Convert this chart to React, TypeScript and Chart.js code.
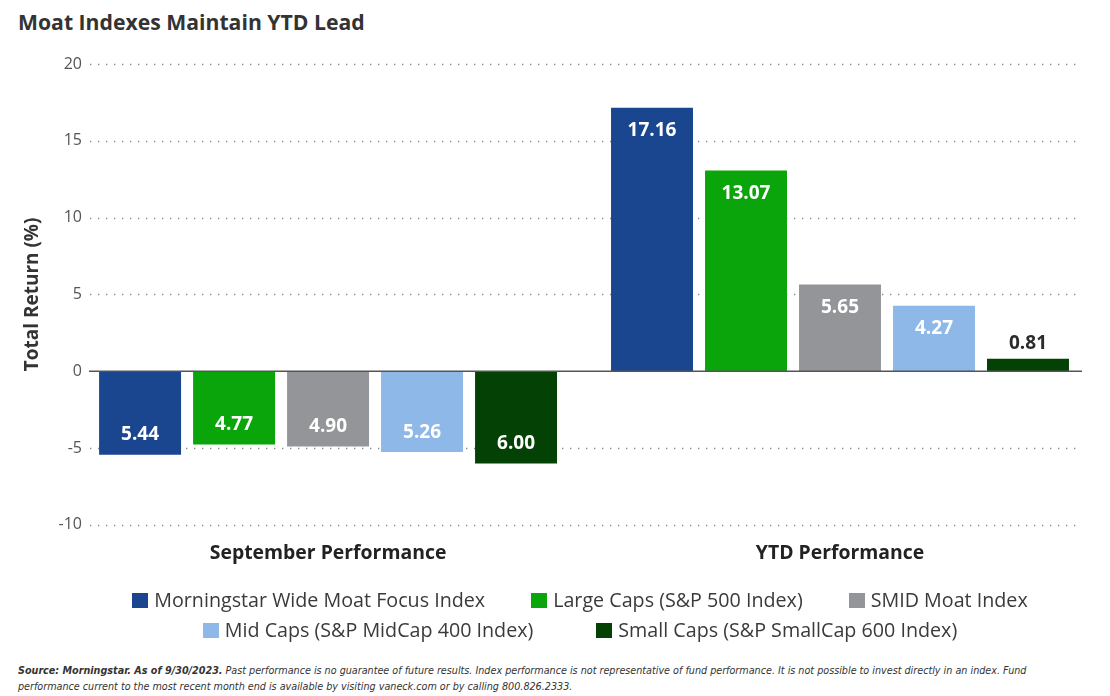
import React, { useEffect, useRef } from "react";
import { Chart, registerables } from "chart.js";

Chart.register(...registerables);

const chartTitle = "Moat Indexes Maintain YTD Lead";
const yAxisTitle = "Total Return (%)";
const categories = ["September Performance", "YTD Performance"];
const seriesNames = [
  "Morningstar Wide Moat Focus Index",
  "Large Caps (S&P 500 Index)",
  "SMID Moat Index",
  "Mid Caps (S&P MidCap 400 Index)",
  "Small Caps (S&P SmallCap 600 Index)",
];
const morningstarWideMoat = [-5.44, 17.16];
const largeCaps = [-4.77, 13.07];
const smidMoat = [-4.9, 5.65];
const midCaps = [-5.26, 4.27];
const smallCaps = [-6.0, 0.81];
const seriesValues = [morningstarWideMoat, largeCaps, smidMoat, midCaps, smallCaps];
const seriesColors = ["#1a4690", "#0aa50a", "#939598", "#8db8e8", "#044104"];
const yMin = -10;
const yMax = 20;
const yStep = 5;
const legendRows = [[0, 1, 2], [3, 4]];

const FONT = "'Open Sans', sans-serif";

const gridPlugin = {
  id: "dottedGrid",
  beforeDatasetsDraw(chart: any) {
    const { ctx, chartArea, scales } = chart;
    const y = scales.y;
    ctx.save();
    ctx.strokeStyle = "#8a8a8a";
    ctx.lineWidth = 1.3;
    ctx.setLineDash([1.3, 6.7]);
    y.ticks.forEach((t: any) => {
      if (t.value === 0) return;
      const py = Math.round(y.getPixelForValue(t.value)) + 0.5;
      ctx.beginPath();
      ctx.moveTo(chartArea.left, py);
      ctx.lineTo(chartArea.right, py);
      ctx.stroke();
    });
    ctx.restore();
  },
  afterDatasetsDraw(chart: any) {
    const { ctx, chartArea, scales } = chart;
    const y = scales.y;
    const py = y.getPixelForValue(0);
    ctx.save();
    ctx.strokeStyle = "#555555";
    ctx.lineWidth = 1.6;
    ctx.beginPath();
    ctx.moveTo(chartArea.left - 1, py);
    ctx.lineTo(chartArea.right, py);
    ctx.stroke();
    ctx.restore();

    ctx.save();
    ctx.font = `bold 19px ${FONT}`;
    ctx.textAlign = "center";
    ctx.textBaseline = "middle";
    chart.data.datasets.forEach((ds: any, di: number) => {
      const meta = chart.getDatasetMeta(di);
      meta.data.forEach((bar: any, i: number) => {
        const v = ds.data[i].y as number;
        const txt = Math.abs(v).toFixed(2);
        const h = Math.abs(bar.base - bar.y);
        let ty: number;
        let color = "#ffffff";
        if (v < 0) {
          ty = bar.y - 20;
        } else if (h > 40) {
          ty = bar.y + 23;
        } else {
          ty = bar.y - 15;
          color = "#2b2b2b";
        }
        ctx.fillStyle = color;
        ctx.fillText(txt, bar.x, ty);
      });
    });
    ctx.restore();
  },
};

function ChartCanvas() {
  const ref = useRef<HTMLCanvasElement | null>(null);
  useEffect(() => {
    if (!ref.current) return;
    const chart = new Chart(ref.current, {
      type: "bar",
      data: {
        datasets: seriesNames.map((name, i) => ({
          label: name,
          data: seriesValues[i].map((v, ci) => ({ x: ci, y: v })),
          backgroundColor: seriesColors[i],
          borderWidth: 0,
          categoryPercentage: 0.918,
          barPercentage: 0.872,
        })),
      },
      options: {
        animation: false,
        responsive: true,
        maintainAspectRatio: false,
        layout: { padding: { left: 21.6, right: 28, top: 64, bottom: 6 } },
        plugins: {
          legend: { display: false },
          title: { display: false },
          tooltip: { enabled: false },
        },
        scales: {
          x: {
            type: "linear",
            offset: false,
            min: -0.465,
            max: 1.4727,
            grid: { display: false, drawTicks: false },
            border: { display: false },
            afterBuildTicks: (scale: any) => {
              scale.ticks = categories.map((_, i) => ({ value: i }));
            },
            ticks: {
              autoSkip: false,
              maxRotation: 0,
              color: "#222222",
              font: { family: FONT, size: 19.4, weight: "bold" },
              padding: 17.4,
              callback: (v: any) => categories[v as number] ?? "",
            },
          },
          y: {
            min: yMin,
            max: yMax,
            afterFit: (scale: any) => {
              scale.width = 68.4;
            },
            grid: { display: false, drawTicks: false },
            border: { display: false },
            ticks: {
              stepSize: yStep,
              color: "#555555",
              font: { family: FONT, size: 16 },
              padding: 8,
            },
            title: {
              display: true,
              text: yAxisTitle,
              color: "#333333",
              font: { family: FONT, size: 19, weight: "bold" },
              padding: { top: 0, bottom: 12 },
            },
          },
        },
      },
      plugins: [gridPlugin],
    });
    return () => chart.destroy();
  }, []);
  return <canvas ref={ref} />;
}

export default function App() {
  return (
    <div
      style={{
        position: "absolute",
        left: 0,
        top: 0,
        width: 1110,
        height: 696,
        background: "#ffffff",
        fontFamily: FONT,
        overflow: "hidden",
      }}
    >
      <div
        style={{
          position: "absolute",
          left: 18,
          top: 7,
          fontSize: 21.2,
          fontWeight: 700,
          color: "#333333",
          whiteSpace: "nowrap",
        }}
      >
        {chartTitle}
      </div>
      <div style={{ position: "absolute", left: 0, top: 0, width: 1110, height: 589 }}>
        <ChartCanvas />
      </div>
      {legendRows.map((row, ri) => (
        <div
          key={ri}
          style={{
            position: "absolute",
            left: 50,
            width: 1060,
            top: ri === 0 ? 587 : 617,
            display: "flex",
            justifyContent: "center",
            gap: ri === 0 ? 46 : 63,
            whiteSpace: "nowrap",
          }}
        >
          {row.map((si) => (
            <div key={si} style={{ display: "flex", alignItems: "center", gap: 6 }}>
              <span
                style={{
                  display: "inline-block",
                  width: 16,
                  height: 15,
                  background: seriesColors[si],
                }}
              />
              <span style={{ fontSize: 19.7, color: "#3a3a3a", lineHeight: "26px" }}>
                {seriesNames[si]}
              </span>
            </div>
          ))}
        </div>
      ))}
      <div
        style={{
          position: "absolute",
          left: 18,
          top: 663,
          fontSize: 10.7,
          lineHeight: "16px",
          fontStyle: "italic",
          color: "#333333",
          fontFamily: "'Liberation Sans Narrow', 'DejaVu Sans Condensed', sans-serif",
          whiteSpace: "nowrap",
        }}
      >
        <div>
          <b>Source: Morningstar. As of 9/30/2023.</b> Past performance is no guarantee of
          future results. Index performance is not representative of fund performance. It is
          not possible to invest directly in an index. Fund
        </div>
        <div>
          performance current to the most recent month end is available by visiting vaneck.com
          or by calling 800.826.2333.
        </div>
      </div>
    </div>
  );
}
